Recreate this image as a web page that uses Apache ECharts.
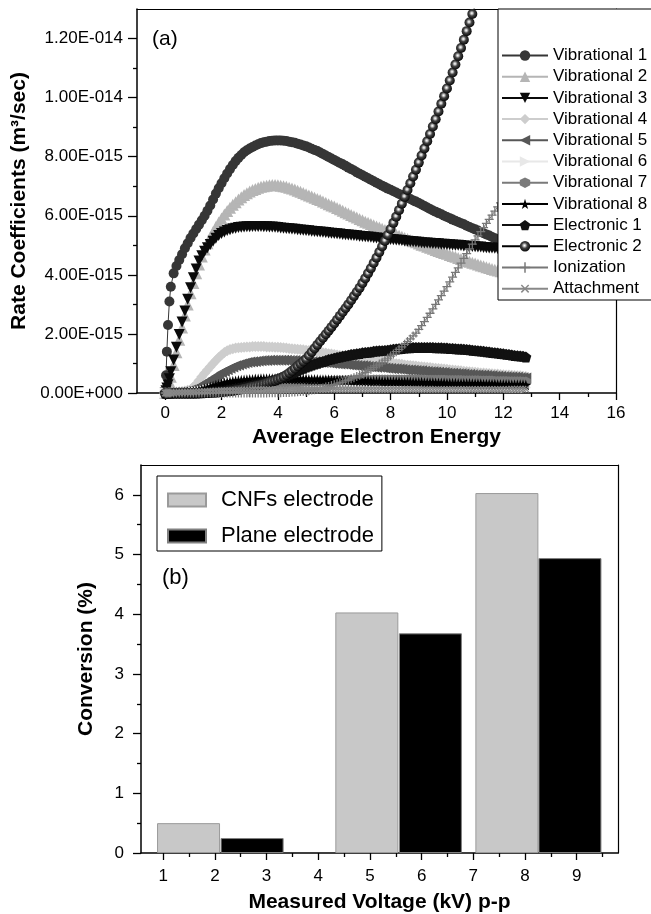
<!DOCTYPE html>
<html>
<head>
<meta charset="utf-8">
<script src="https://cdn.jsdelivr.net/npm/echarts@6/dist/echarts.min.js"></script>
<style>
  html, body { margin: 0; padding: 0; background: #fff; }
  #main { width: 651px; height: 914px; }
</style>
</head>
<body>
<div id="main"></div>
<script>
// ---- (a) rate coefficients, values in 1e-15 m3/sec ----
const energy = [0, 0.03, 0.06, 0.1, 0.15,
  0.2, 0.3, 0.4, 0.5, 0.6, 0.7, 0.8, 0.9,
  1.0, 1.1, 1.2, 1.3, 1.4, 1.5, 1.6, 1.7, 1.8, 1.9,
  2.0, 2.1, 2.2, 2.3, 2.4, 2.5, 2.6, 2.7, 2.8, 2.9,
  3.0, 3.1, 3.2, 3.3, 3.4, 3.5, 3.6, 3.7, 3.8, 3.9,
  4.0, 4.1, 4.2, 4.3, 4.4, 4.5, 4.6, 4.7, 4.8, 4.9,
  5.0, 5.1, 5.2, 5.3, 5.4, 5.5, 5.6, 5.7, 5.8, 5.9,
  6.0, 6.1, 6.2, 6.3, 6.4, 6.5, 6.6, 6.7, 6.8, 6.9,
  7.0, 7.1, 7.2, 7.3, 7.4, 7.5, 7.6, 7.7, 7.8, 7.9,
  8.0, 8.1, 8.2, 8.3, 8.4, 8.5, 8.6, 8.7, 8.8, 8.9,
  9.0, 9.1, 9.2, 9.3, 9.4, 9.5, 9.6, 9.7, 9.8, 9.9,
  10.0, 10.1, 10.2, 10.3, 10.4, 10.5, 10.6, 10.7, 10.8, 10.9,
  11.0, 11.1, 11.2, 11.3, 11.4, 11.5, 11.6, 11.7, 11.8, 11.9,
  12.0, 12.1, 12.2, 12.3, 12.4, 12.5, 12.6, 12.7, 12.8];

const vib1 = [0, 0.6, 1.4, 2.3, 3.1,
  3.6, 4.05, 4.3, 4.5, 4.7, 4.9, 5.07, 5.25,
  5.4, 5.55, 5.7, 5.85, 6.0, 6.17, 6.35, 6.55, 6.75, 6.93,
  7.1, 7.27, 7.43, 7.58, 7.72, 7.85, 7.96, 8.06, 8.15, 8.22,
  8.28, 8.33, 8.38, 8.42, 8.46, 8.49, 8.51, 8.53, 8.54, 8.55,
  8.55, 8.55, 8.54, 8.53, 8.51, 8.49, 8.47, 8.44, 8.41, 8.38,
  8.35, 8.31, 8.27, 8.23, 8.19, 8.14, 8.09, 8.04, 7.99, 7.94,
  7.89, 7.84, 7.79, 7.74, 7.69, 7.63, 7.58, 7.53, 7.47, 7.42,
  7.37, 7.32, 7.27, 7.22, 7.17, 7.12, 7.07, 7.02, 6.97, 6.92,
  6.88, 6.83, 6.79, 6.74, 6.7, 6.66, 6.61, 6.57, 6.52, 6.48,
  6.43, 6.38, 6.33, 6.28, 6.23, 6.18, 6.14, 6.09, 6.05, 6.0,
  5.96, 5.92, 5.87, 5.83, 5.79, 5.75, 5.71, 5.66, 5.62, 5.58,
  5.54, 5.5, 5.45, 5.41, 5.37, 5.33, 5.28, 5.24, 5.2, 5.16,
  5.12, 5.08, 5.04, 5.0, 4.96, 4.92, 4.88, 4.85, 4.81];

const vib2 = [0, 0.03, 0.08, 0.2, 0.38,
  0.55, 0.95, 1.38, 1.8, 2.22, 2.62, 3.0, 3.38,
  3.72, 4.05, 4.35, 4.62, 4.86, 5.07, 5.27, 5.45, 5.62, 5.77,
  5.91, 6.04, 6.16, 6.27, 6.37, 6.46, 6.55, 6.63, 6.7, 6.76,
  6.82, 6.87, 6.91, 6.95, 6.98, 7.0, 7.02, 7.03, 7.04, 7.04,
  7.03, 7.02, 7.0, 6.98, 6.95, 6.92, 6.89, 6.85, 6.81, 6.77,
  6.73, 6.69, 6.65, 6.61, 6.57, 6.53, 6.48, 6.44, 6.39, 6.35,
  6.31, 6.26, 6.22, 6.17, 6.12, 6.08, 6.03, 5.98, 5.94, 5.89,
  5.85, 5.8, 5.76, 5.72, 5.68, 5.64, 5.6, 5.56, 5.52, 5.48,
  5.44, 5.4, 5.36, 5.32, 5.29, 5.25, 5.21, 5.17, 5.14, 5.1,
  5.06, 5.02, 4.99, 4.95, 4.92, 4.88, 4.84, 4.81, 4.77, 4.74,
  4.71, 4.67, 4.64, 4.61, 4.57, 4.54, 4.51, 4.47, 4.44, 4.41,
  4.38, 4.35, 4.32, 4.29, 4.26, 4.23, 4.2, 4.17, 4.15, 4.12,
  4.09, 4.06, 4.03, 4.0, 3.97, 3.95, 3.92, 3.89, 3.86];

const vib3 = [0, 0.08, 0.17, 0.28, 0.48,
  0.72, 1.12, 1.55, 1.98, 2.4, 2.78, 3.17, 3.56,
  3.9, 4.2, 4.47, 4.65, 4.8, 4.92, 5.03, 5.14, 5.24, 5.33,
  5.4, 5.45, 5.5, 5.53, 5.56, 5.58, 5.6, 5.61, 5.62, 5.63,
  5.63, 5.64, 5.64, 5.64, 5.64, 5.63, 5.63, 5.62, 5.62, 5.61,
  5.6, 5.59, 5.58, 5.57, 5.56, 5.55, 5.54, 5.53, 5.52, 5.51,
  5.5, 5.49, 5.48, 5.47, 5.46, 5.45, 5.44, 5.43, 5.42, 5.41,
  5.4, 5.39, 5.38, 5.37, 5.36, 5.35, 5.34, 5.33, 5.32, 5.31,
  5.3, 5.29, 5.28, 5.27, 5.26, 5.25, 5.24, 5.23, 5.22, 5.21,
  5.2, 5.19, 5.18, 5.17, 5.16, 5.15, 5.14, 5.13, 5.12, 5.11,
  5.1, 5.09, 5.08, 5.08, 5.07, 5.06, 5.06, 5.05, 5.04, 5.04,
  5.03, 5.02, 5.01, 5.0, 5.0, 4.99, 4.98, 4.97, 4.97, 4.96,
  4.95, 4.94, 4.94, 4.93, 4.92, 4.91, 4.91, 4.9, 4.89, 4.89,
  4.88, 4.87, 4.86, 4.86, 4.85, 4.84, 4.84, 4.83, 4.82];

const vib4 = [0, 0, 0, 0, 0.01,
  0.01, 0.02, 0.03, 0.04, 0.05, 0.07, 0.09, 0.12,
  0.2, 0.3, 0.42, 0.55, 0.67, 0.78, 0.89, 1.0, 1.1, 1.2,
  1.29, 1.37, 1.43, 1.47, 1.5, 1.52, 1.53, 1.54, 1.55, 1.56,
  1.56, 1.57, 1.57, 1.57, 1.57, 1.57, 1.56, 1.56, 1.56, 1.55,
  1.55, 1.54, 1.53, 1.52, 1.51, 1.5, 1.49, 1.48, 1.47, 1.46,
  1.45, 1.44, 1.42, 1.41, 1.39, 1.38, 1.36, 1.35, 1.33, 1.32,
  1.3, 1.29, 1.27, 1.26, 1.24, 1.23, 1.21, 1.2, 1.18, 1.17,
  1.15, 1.14, 1.12, 1.11, 1.09, 1.08, 1.07, 1.05, 1.04, 1.03,
  1.02, 1.0, 0.99, 0.98, 0.97, 0.95, 0.94, 0.93, 0.92, 0.91,
  0.9, 0.89, 0.88, 0.87, 0.86, 0.85, 0.84, 0.83, 0.82, 0.81,
  0.8, 0.79, 0.78, 0.77, 0.76, 0.75, 0.74, 0.73, 0.72, 0.71,
  0.7, 0.69, 0.68, 0.68, 0.67, 0.66, 0.65, 0.64, 0.64, 0.63,
  0.62, 0.61, 0.61, 0.6, 0.59, 0.58, 0.58, 0.57, 0.56];

const vib5 = [0, 0, 0, 0, 0,
  0, 0.01, 0.01, 0.02, 0.03, 0.05, 0.07, 0.1,
  0.13, 0.17, 0.22, 0.27, 0.33, 0.39, 0.45, 0.51, 0.57, 0.63,
  0.69, 0.74, 0.79, 0.84, 0.88, 0.92, 0.95, 0.98, 1.01, 1.03,
  1.05, 1.06, 1.07, 1.08, 1.09, 1.1, 1.1, 1.11, 1.11, 1.11,
  1.11, 1.11, 1.11, 1.11, 1.1, 1.1, 1.1, 1.09, 1.09, 1.08,
  1.08, 1.07, 1.06, 1.06, 1.05, 1.04, 1.03, 1.03, 1.02, 1.01,
  1.0, 0.99, 0.98, 0.98, 0.97, 0.96, 0.95, 0.94, 0.93, 0.92,
  0.92, 0.91, 0.9, 0.89, 0.88, 0.87, 0.87, 0.86, 0.85, 0.84,
  0.83, 0.82, 0.82, 0.81, 0.8, 0.79, 0.78, 0.78, 0.77, 0.76,
  0.75, 0.75, 0.74, 0.73, 0.72, 0.72, 0.71, 0.7, 0.69, 0.69,
  0.68, 0.67, 0.67, 0.66, 0.65, 0.65, 0.64, 0.63, 0.63, 0.62,
  0.61, 0.61, 0.6, 0.6, 0.59, 0.58, 0.58, 0.57, 0.57, 0.56,
  0.55, 0.55, 0.54, 0.54, 0.53, 0.53, 0.52, 0.52, 0.51];

const vib6 = [0, 0, 0, 0, 0,
  0, 0, 0, 0, 0.01, 0.01, 0.02, 0.02,
  0.03, 0.04, 0.05, 0.07, 0.08, 0.1, 0.12, 0.14, 0.15, 0.17,
  0.19, 0.2, 0.22, 0.23, 0.24, 0.26, 0.27, 0.28, 0.28, 0.29,
  0.3, 0.3, 0.31, 0.31, 0.32, 0.32, 0.32, 0.33, 0.33, 0.33,
  0.33, 0.33, 0.33, 0.33, 0.33, 0.33, 0.33, 0.33, 0.33, 0.32,
  0.32, 0.32, 0.32, 0.32, 0.32, 0.31, 0.31, 0.31, 0.31, 0.31,
  0.3, 0.3, 0.3, 0.3, 0.3, 0.29, 0.29, 0.29, 0.29, 0.29,
  0.28, 0.28, 0.28, 0.28, 0.28, 0.27, 0.27, 0.27, 0.27, 0.27,
  0.26, 0.26, 0.26, 0.26, 0.26, 0.25, 0.25, 0.25, 0.25, 0.25,
  0.25, 0.24, 0.24, 0.24, 0.24, 0.24, 0.24, 0.23, 0.23, 0.23,
  0.23, 0.23, 0.23, 0.22, 0.22, 0.22, 0.22, 0.22, 0.22, 0.21,
  0.21, 0.21, 0.21, 0.21, 0.21, 0.2, 0.2, 0.2, 0.2, 0.2,
  0.2, 0.2, 0.19, 0.19, 0.19, 0.19, 0.19, 0.19, 0.18];

const vib7 = [0, 0, 0, 0, 0,
  0, 0, 0, 0, 0, 0, 0.01, 0.01,
  0.01, 0.02, 0.02, 0.03, 0.03, 0.04, 0.05, 0.06, 0.07, 0.08,
  0.09, 0.1, 0.11, 0.12, 0.13, 0.15, 0.16, 0.17, 0.18, 0.19,
  0.2, 0.21, 0.22, 0.23, 0.24, 0.25, 0.26, 0.27, 0.28, 0.29,
  0.3, 0.31, 0.31, 0.32, 0.33, 0.34, 0.35, 0.35, 0.36, 0.37,
  0.37, 0.38, 0.38, 0.39, 0.39, 0.4, 0.4, 0.41, 0.41, 0.42,
  0.42, 0.42, 0.43, 0.43, 0.43, 0.44, 0.44, 0.44, 0.44, 0.45,
  0.45, 0.45, 0.45, 0.45, 0.46, 0.46, 0.46, 0.46, 0.46, 0.46,
  0.46, 0.46, 0.46, 0.46, 0.46, 0.46, 0.46, 0.46, 0.46, 0.46,
  0.46, 0.46, 0.45, 0.45, 0.45, 0.45, 0.45, 0.45, 0.45, 0.45,
  0.44, 0.44, 0.44, 0.44, 0.44, 0.44, 0.43, 0.43, 0.43, 0.43,
  0.43, 0.43, 0.42, 0.42, 0.42, 0.42, 0.42, 0.41, 0.41, 0.41,
  0.41, 0.41, 0.4, 0.4, 0.4, 0.4, 0.4, 0.39, 0.39];

const vib8 = [0, 0, 0, 0, 0,
  0, 0, 0, 0.01, 0.01, 0.02, 0.03, 0.04,
  0.05, 0.07, 0.09, 0.11, 0.14, 0.17, 0.2, 0.23, 0.26, 0.29,
  0.32, 0.34, 0.36, 0.38, 0.4, 0.41, 0.42, 0.43, 0.44, 0.45,
  0.46, 0.46, 0.47, 0.47, 0.48, 0.48, 0.48, 0.48, 0.48, 0.48,
  0.48, 0.48, 0.48, 0.48, 0.48, 0.48, 0.47, 0.47, 0.47, 0.47,
  0.47, 0.46, 0.46, 0.46, 0.46, 0.45, 0.45, 0.45, 0.45, 0.44,
  0.44, 0.44, 0.43, 0.43, 0.43, 0.43, 0.42, 0.42, 0.42, 0.41,
  0.41, 0.41, 0.41, 0.4, 0.4, 0.4, 0.4, 0.39, 0.39, 0.39,
  0.38, 0.38, 0.38, 0.38, 0.37, 0.37, 0.37, 0.37, 0.36, 0.36,
  0.36, 0.36, 0.35, 0.35, 0.35, 0.35, 0.34, 0.34, 0.34, 0.34,
  0.33, 0.33, 0.33, 0.33, 0.32, 0.32, 0.32, 0.32, 0.32, 0.31,
  0.31, 0.31, 0.31, 0.3, 0.3, 0.3, 0.3, 0.3, 0.29, 0.29,
  0.29, 0.29, 0.29, 0.28, 0.28, 0.28, 0.28, 0.28, 0.27];

const elec1 = [0, 0, 0, 0, 0,
  0, 0, 0, 0, 0, 0, 0, 0,
  0, 0, 0.01, 0.01, 0.02, 0.02, 0.03, 0.04, 0.05, 0.06,
  0.07, 0.08, 0.1, 0.11, 0.13, 0.14, 0.16, 0.18, 0.2, 0.22,
  0.24, 0.26, 0.28, 0.3, 0.32, 0.35, 0.37, 0.4, 0.42, 0.45,
  0.48, 0.52, 0.56, 0.6, 0.64, 0.68, 0.72, 0.76, 0.8, 0.84,
  0.88, 0.91, 0.95, 0.98, 1.01, 1.04, 1.07, 1.1, 1.13, 1.15,
  1.18, 1.2, 1.22, 1.24, 1.26, 1.28, 1.3, 1.31, 1.33, 1.34,
  1.36, 1.37, 1.38, 1.39, 1.41, 1.42, 1.43, 1.43, 1.44, 1.45,
  1.46, 1.48, 1.49, 1.5, 1.51, 1.52, 1.53, 1.53, 1.54, 1.54,
  1.54, 1.54, 1.54, 1.54, 1.54, 1.54, 1.53, 1.53, 1.53, 1.52,
  1.52, 1.51, 1.51, 1.5, 1.49, 1.49, 1.48, 1.47, 1.46, 1.45,
  1.44, 1.43, 1.42, 1.41, 1.4, 1.39, 1.37, 1.36, 1.35, 1.34,
  1.33, 1.31, 1.3, 1.29, 1.27, 1.26, 1.25, 1.24, 1.22];

// leaves the top of the frame near 11
const elec2 = [0, 0, 0, 0, 0,
  0, 0, 0, 0, 0, 0, 0, 0,
  0, 0, 0, 0, 0, 0.01, 0.01, 0.01, 0.01, 0.02,
  0.03, 0.04, 0.05, 0.06, 0.07, 0.09, 0.1, 0.12, 0.14, 0.16,
  0.19, 0.21, 0.23, 0.25, 0.27, 0.3, 0.33, 0.36, 0.39, 0.42,
  0.46, 0.5, 0.55, 0.61, 0.68, 0.75, 0.83, 0.91, 0.99, 1.07,
  1.15, 1.27, 1.39, 1.51, 1.63, 1.75, 1.87, 1.99, 2.11, 2.23,
  2.35, 2.48, 2.61, 2.74, 2.87, 3.0, 3.14, 3.28, 3.42, 3.56,
  3.72, 3.88, 4.05, 4.22, 4.4, 4.58, 4.77, 4.96, 5.15, 5.35,
  5.55, 5.76, 5.97, 6.19, 6.41, 6.64, 6.87, 7.1, 7.33, 7.56,
  7.8, 8.04, 8.28, 8.52, 8.77, 9.02, 9.27, 9.53, 9.79, 10.05,
  10.31, 10.58, 10.85, 11.12, 11.4, 11.68, 11.96, 12.25, 12.54, 12.83,
  13.12];

const ionization = [0, 0, 0, 0, 0,
  0, 0, 0, 0, 0, 0, 0, 0,
  0, 0, 0, 0, 0, 0, 0, 0, 0, 0,
  0, 0, 0, 0, 0, 0, 0, 0, 0, 0,
  0, 0, 0, 0, 0, 0, 0, 0.01, 0.01, 0.01,
  0.01, 0.01, 0.02, 0.02, 0.02, 0.03, 0.03, 0.04, 0.05, 0.06,
  0.07, 0.08, 0.1, 0.11, 0.13, 0.15, 0.17, 0.2, 0.22, 0.25,
  0.28, 0.31, 0.34, 0.37, 0.41, 0.44, 0.48, 0.52, 0.56, 0.6,
  0.65, 0.7, 0.75, 0.8, 0.86, 0.92, 0.98, 1.04, 1.11, 1.18,
  1.25, 1.32, 1.4, 1.48, 1.56, 1.65, 1.74, 1.83, 1.93, 2.03,
  2.15, 2.28, 2.42, 2.56, 2.7, 2.85, 3.0, 3.15, 3.3, 3.45,
  3.6, 3.76, 3.92, 4.08, 4.24, 4.4, 4.56, 4.72, 4.88, 5.04,
  5.18, 5.32, 5.46, 5.6, 5.74, 5.88, 6.02, 6.16, 6.3, 6.44,
  6.58, 6.72, 6.86, 7.0, 7.14, 7.28, 7.42, 7.56, 7.7];

const attachment = [0, 0, 0, 0, 0,
  0, 0, 0.01, 0.01, 0.01, 0.02, 0.02, 0.02,
  0.03, 0.03, 0.04, 0.04, 0.05, 0.05, 0.06, 0.06, 0.07, 0.07,
  0.08, 0.08, 0.08, 0.09, 0.09, 0.09, 0.1, 0.1, 0.1, 0.1,
  0.1, 0.11, 0.11, 0.11, 0.11, 0.11, 0.11, 0.11, 0.11, 0.11,
  0.11, 0.11, 0.11, 0.11, 0.11, 0.12, 0.12, 0.12, 0.12, 0.12,
  0.12, 0.12, 0.12, 0.12, 0.12, 0.12, 0.12, 0.12, 0.12, 0.12,
  0.12, 0.12, 0.12, 0.12, 0.12, 0.12, 0.12, 0.12, 0.12, 0.12,
  0.12, 0.12, 0.12, 0.12, 0.12, 0.12, 0.12, 0.12, 0.12, 0.12,
  0.12, 0.12, 0.12, 0.12, 0.12, 0.12, 0.12, 0.12, 0.12, 0.12,
  0.12, 0.12, 0.12, 0.12, 0.12, 0.12, 0.12, 0.12, 0.12, 0.12,
  0.12, 0.12, 0.12, 0.12, 0.12, 0.12, 0.12, 0.12, 0.12, 0.12,
  0.12, 0.12, 0.12, 0.12, 0.12, 0.12, 0.12, 0.12, 0.12, 0.12,
  0.12, 0.12, 0.12, 0.13, 0.13, 0.13, 0.13, 0.13, 0.13];

const rateNames = ['Vibrational 1', 'Vibrational 2', 'Vibrational 3', 'Vibrational 4',
  'Vibrational 5', 'Vibrational 6', 'Vibrational 7', 'Vibrational 8',
  'Electronic 1', 'Electronic 2', 'Ionization', 'Attachment'];
const rateData = [vib1, vib2, vib3, vib4, vib5, vib6, vib7, vib8, elec1, elec2, ionization, attachment];

const energyTicks = [0, 2, 4, 6, 8, 10, 12, 14, 16];
const energyMinor = [1, 3, 5, 7, 9, 11, 13, 15];
const rateTicks = [0, 2, 4, 6, 8, 10, 12];
const rateMinor = [1, 3, 5, 7, 9, 11];

// ---- (b) conversion ----
const convNames = ['CNFs electrode', 'Plane electrode'];
const cnfVolt = [1.49, 4.94, 7.65];
const cnfConv = [0.5, 4.03, 6.03];
const planeVolt = [2.72, 6.17, 8.87];
const planeConv = [0.25, 3.68, 4.94];

const voltTicks = [1, 2, 3, 4, 5, 6, 7, 8, 9];
const voltMinor = [1.5, 2.5, 3.5, 4.5, 5.5, 6.5, 7.5, 8.5, 9.5];
const convTicks = [0, 1, 2, 3, 4, 5, 6];
const convMinor = [0.5, 1.5, 2.5, 3.5, 4.5, 5.5];

const FONT = '"Liberation Sans", Arial, Helvetica, sans-serif';

const HEX = 'path://M5,0L9.33,2.5L9.33,7.5L5,10L0.67,7.5L0.67,2.5Z';
const STAR = 'path://M50,0L61,35H98L68,57L79,91L50,70L21,91L32,57L2,35H39Z';
const PENT = 'path://M50,0L98,36L80,95H20L2,36Z';
const PLUS = 'path://M4.3,0H5.7V4.3H10V5.7H5.7V10H4.3V5.7H0V4.3H4.3Z';
const sphere = {
  type: 'radial', x: 0.45, y: 0.42, r: 0.6,
  colorStops: [
    { offset: 0, color: '#ffffff' },
    { offset: 0.18, color: '#c8c8c8' },
    { offset: 0.45, color: '#444' },
    { offset: 0.8, color: '#1a1a1a' },
    { offset: 1, color: '#000' }
  ]
};

const rateStyles = [
  { symbol: 'circle', size: 10, color: '#363636' },
  { symbol: 'triangle', size: 12, color: '#b5b5b5' },
  { symbol: 'triangle', size: 11, rotate: 180, color: '#0a0a0a' },
  { symbol: 'diamond', size: 11, color: '#cdcdcd' },
  { symbol: 'triangle', size: 11, rotate: 90, color: '#575757' },
  { symbol: 'triangle', size: 11, rotate: -90, color: '#e8e8e8' },
  { symbol: HEX, size: 10, color: '#7a7a7a' },
  { symbol: STAR, size: 11, color: '#000' },
  { symbol: PENT, size: 11, color: '#111' },
  { symbol: 'circle', size: 10, color: sphere, line: '#000' },
  { symbol: PLUS, size: 9, color: '#777' },
  { symbol: PLUS, size: 9, rotate: 45, color: '#888' }
];

function sciLabel(v) {
  if (v === 0) return '0.00E+000';
  const e = Math.floor(Math.log10(v) + 1e-9);
  const m = v / Math.pow(10, e);
  const p = 15 - e;
  return m.toFixed(2) + 'E-0' + (p < 10 ? '0' : '') + p;
}

const axisLineStyle = { color: '#000', width: 1.5 };
const tickStyle = { color: '#000', width: 1.3 };
const labelStyle = { color: '#000', fontSize: 17, fontFamily: FONT };
const nameStyle = { color: '#000', fontSize: 21, fontWeight: 'bold', fontFamily: FONT };

function minorAxis(grid, min, max, values, pos) {
  return {
    type: 'value', gridIndex: grid, min: min, max: max, position: pos,
    axisLine: { show: false, onZero: false },
    axisTick: { show: true, customValues: values, length: 4, lineStyle: tickStyle },
    axisLabel: { show: false },
    splitLine: { show: false }
  };
}

// plain line on the opposite side, closing the frame
function frameAxis(grid, min, max, pos) {
  return {
    type: 'value', gridIndex: grid, min: min, max: max, position: pos,
    axisLine: { show: true, onZero: false, lineStyle: { color: '#000', width: 1.2 } },
    axisTick: { show: false },
    axisLabel: { show: false },
    splitLine: { show: false }
  };
}

const chart = echarts.init(document.getElementById('main'));

const series = rateData.map((arr, k) => {
  const st = rateStyles[k];
  return {
    type: 'line',
    name: rateNames[k],
    xAxisIndex: 0,
    yAxisIndex: 0,
    data: arr.map((v, i) => [energy[i], v]),
    symbol: st.symbol,
    symbolSize: st.size,
    symbolRotate: st.rotate || 0,
    showAllSymbol: true,
    itemStyle: { color: st.color },
    lineStyle: { color: st.line || st.color, width: 1 },
    clip: true,
    emphasis: { disabled: true }
  };
});

series.push({
  type: 'bar', name: convNames[0], xAxisIndex: 3, yAxisIndex: 3,
  data: cnfVolt.map((x, i) => [x, cnfConv[i]]),
  barWidth: 63, barGap: '-100%',
  itemStyle: { color: '#c8c8c8', borderColor: '#9a9a9a', borderWidth: 1 }
});
series.push({
  type: 'bar', name: convNames[1], xAxisIndex: 3, yAxisIndex: 3,
  data: planeVolt.map((x, i) => [x, planeConv[i]]),
  barWidth: 63, barGap: '-100%',
  itemStyle: { color: '#000', borderColor: '#808080', borderWidth: 1 }
});

chart.setOption({
  animation: false,
  backgroundColor: '#fff',
  title: [
    { text: '(a)', left: 152, top: 29, padding: 0,
      textStyle: { fontSize: 21, fontWeight: 'normal', color: '#000', fontFamily: FONT } },
    { text: '(b)', left: 162, top: 567, padding: 0,
      textStyle: { fontSize: 22, fontWeight: 'normal', color: '#000', fontFamily: FONT } }
  ],
  // frame behind the legend of (a); it runs past the right edge of the picture
  graphic: {
    z: 50,
    elements: [
      { type: 'rect', z: 50, shape: { x: 498, y: 9, width: 170, height: 291 },
        style: { fill: '#fff', stroke: '#000', lineWidth: 1 } }
    ]
  },
  grid: [
    { left: 137, top: 9, width: 479, height: 384, show: false },
    { left: 141, top: 465, width: 477, height: 388, show: false }
  ],
  legend: [
    {
      orient: 'vertical', left: 498, top: 9,
      data: rateNames,
      itemWidth: 46, itemHeight: 13, itemGap: 4.2,
      padding: [38, 6, 5, 3],
      textStyle: { color: '#000', fontSize: 17, fontFamily: FONT },
      selectedMode: false, z: 60
    },
    {
      orient: 'vertical', left: 157, top: 476,
      data: convNames, icon: 'rect',
      itemWidth: 38, itemHeight: 13, itemGap: 14,
      padding: [13, 8, 4, 10],
      backgroundColor: '#fff', borderColor: '#000', borderWidth: 1,
      textStyle: { color: '#000', fontSize: 22, fontFamily: FONT, padding: [0, 0, 0, 10] },
      selectedMode: false, z: 10
    }
  ],
  xAxis: [
    {
      type: 'value', gridIndex: 0, min: -1, max: 16, position: 'bottom',
      axisLine: { onZero: false, lineStyle: axisLineStyle },
      axisTick: { customValues: energyTicks, length: 7, lineStyle: tickStyle },
      axisLabel: Object.assign({ customValues: energyTicks, margin: 12 }, labelStyle),
      splitLine: { show: false },
      name: 'Average Electron Energy', nameLocation: 'middle', nameGap: 34, nameTextStyle: nameStyle
    },
    minorAxis(0, -1, 16, energyMinor, 'bottom'),
    frameAxis(0, -1, 16, 'top'),
    {
      type: 'value', gridIndex: 1, min: 0.57, max: 9.8, position: 'bottom',
      axisLine: { onZero: false, lineStyle: axisLineStyle },
      axisTick: { customValues: voltTicks, length: 7, lineStyle: tickStyle },
      axisLabel: Object.assign({ customValues: voltTicks, margin: 15 }, labelStyle),
      splitLine: { show: false },
      name: 'Measured Voltage (kV) p-p', nameLocation: 'middle', nameGap: 39, nameTextStyle: nameStyle
    },
    minorAxis(1, 0.57, 9.8, voltMinor, 'bottom'),
    frameAxis(1, 0.57, 9.8, 'top')
  ],
  yAxis: [
    {
      type: 'value', gridIndex: 0, min: 0, max: 13, position: 'left',
      axisLine: { onZero: false, lineStyle: axisLineStyle },
      axisTick: { customValues: rateTicks, length: 9, lineStyle: tickStyle },
      axisLabel: Object.assign({ customValues: rateTicks, margin: 14, formatter: sciLabel }, labelStyle),
      splitLine: { show: false },
      name: 'Rate Coefficients (m³/sec)', nameLocation: 'middle', nameGap: 107, nameRotate: 90,
      nameTextStyle: nameStyle
    },
    minorAxis(0, 0, 13, rateMinor, 'left'),
    frameAxis(0, 0, 13, 'right'),
    {
      type: 'value', gridIndex: 1, min: 0, max: 6.5, position: 'left',
      axisLine: { onZero: false, lineStyle: axisLineStyle },
      axisTick: { customValues: convTicks, length: 8, lineStyle: tickStyle },
      axisLabel: Object.assign({ customValues: convTicks, margin: 17 }, labelStyle),
      splitLine: { show: false },
      name: 'Conversion (%)', nameLocation: 'middle', nameGap: 44, nameRotate: 90,
      nameTextStyle: nameStyle
    },
    minorAxis(1, 0, 6.5, convMinor, 'left'),
    frameAxis(1, 0, 6.5, 'right')
  ],
  series: series
});
</script>
</body>
</html>
